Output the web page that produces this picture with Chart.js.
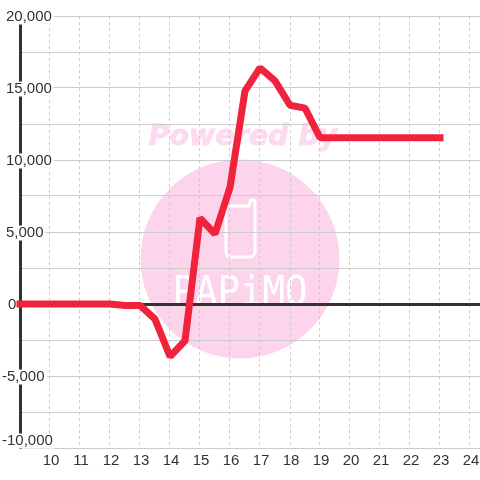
<!DOCTYPE html>
<html>
<head>
<meta charset="utf-8">
<style>
  html, body { margin: 0; padding: 0; background: #fff; }
  canvas { display: block; }
</style>
<script src="https://cdn.jsdelivr.net/npm/chart.js@4/dist/chart.umd.min.js"></script>
</head>
<body>
<canvas id="profitChart" width="480" height="480"></canvas>
<script>
const hours = [9, 10, 11, 12, 12.5, 13, 13.5, 14, 14.5, 15, 15.5, 16, 16.5, 17, 17.5, 18, 18.5, 19, 20, 21, 22, 23];
const profit = [0, 0, 0, 0, -100, -100, -1050, -3650, -2550, 5970, 4860, 8100, 14800, 16400, 15500, 13800, 13600, 11550, 11550, 11550, 11550, 11550];
const yLabelValues = [-10000, -5000, 0, 5000, 10000, 15000, 20000];
const yLabels = ["-10,000", "-5,000", "0", "5,000", "10,000", "15,000", "20,000"];
const xLabels = ["10", "11", "12", "13", "14", "15", "16", "17", "18", "19", "20", "21", "22", "23", "24"];

// the pink logo sits behind the grid
const watermark = {
  id: "watermark",
  beforeDraw(chart) {
    const ctx = chart.ctx;
    ctx.save();
    ctx.fillStyle = "#fcd5ec";
    ctx.beginPath();
    ctx.arc(240, 259, 99.5, 0, Math.PI * 2);
    ctx.fill();

    ctx.fillStyle = "#fddaef";
    ctx.strokeStyle = "#fddaef";
    ctx.lineWidth = 0.8;
    ctx.font = "italic bold 28.5px 'DejaVu Sans'";
    ctx.textBaseline = "alphabetic";
    ctx.textAlign = "left";
    ctx.fillText("Powered by", 148.5, 144.5);
    ctx.strokeText("Powered by", 148.5, 144.5);

    ctx.strokeStyle = "#fff";
    ctx.lineWidth = 3;
    ctx.lineJoin = "round";
    ctx.beginPath();
    ctx.moveTo(226, 206);
    ctx.lineTo(226, 252);
    ctx.arcTo(226, 257, 231, 257, 5);
    ctx.lineTo(250, 257);
    ctx.arcTo(255, 257, 255, 252, 5);
    ctx.lineTo(255, 202);
    ctx.arcTo(255, 200, 253, 200, 2);
    ctx.arcTo(250, 200, 250, 202, 2);
    ctx.lineTo(249, 206);
    ctx.closePath();
    ctx.stroke();

    ctx.fillStyle = "#fff";
    ctx.font = "36px 'DejaVu Sans Mono'";
    ctx.textAlign = "center";
    ctx.save();
    ctx.translate(240, 305);
    ctx.scale(1.04, 1.15);
    ctx.fillText("PAPiMO", 0, 0);
    ctx.restore();
    ctx.restore();
  },
};

// tick labels do not line up in the original, so nudge them after layout
const labelNudge = {
  id: "labelNudge",
  afterLayout(chart) {
    const shifts = { "-10,000": [-4, -7], "-5,000": [-4, 1], "0": [2, 1] };
    chart.scales.y.getLabelItems().forEach((item) => {
      const s = shifts[item.label] || [0, 1];
      item.options.translation[0] += s[0];
      item.options.translation[1] += s[1];
    });
    chart.scales.x.getLabelItems().forEach((item) => {
      item.options.translation[0] += 1;
    });
  },
};

new Chart(document.getElementById("profitChart"), {
  type: "line",
  data: {
    datasets: [
      {
        data: hours.map((h, i) => ({ x: h, y: profit[i] })),
        borderColor: "#f0223c",
        borderWidth: 7,
        borderCapStyle: "square",
        borderJoinStyle: "bevel",
        pointRadius: 0,
        tension: 0,
        clip: false,
      },
    ],
  },
  options: {
    responsive: false,
    animation: false,
    layout: { padding: { top: 16 } },
    plugins: {
      legend: { display: false },
      tooltip: { enabled: false },
    },
    scales: {
      x: {
        type: "linear",
        min: 9,
        max: 9 + 460 / 30,
        afterFit(scale) {
          scale.height = 32;
          scale.paddingLeft = 0;
          scale.paddingRight = 0;
        },
        grid: { color: "#ccc", lineWidth: 1, drawTicks: false },
        border: { display: false, dash: [3, 3] },
        ticks: {
          stepSize: 1,
          autoSkip: false,
          maxRotation: 0,
          includeBounds: false,
          padding: 4,
          color: "#333",
          font: { family: "'Liberation Sans'", size: 15 },
          callback: (v) => (xLabels.includes(String(v)) ? String(v) : ""),
        },
      },
      y: {
        min: -10000,
        max: 20000,
        afterFit(scale) {
          scale.width = 20;
        },
        grid: {
          color: (c) => (c.tick.value === 0 ? "#333" : "#ccc"),
          lineWidth: (c) => (c.tick.value === 0 ? 3 : 1),
          drawTicks: false,
        },
        border: { display: true, color: "#333", width: 3 },
        ticks: {
          stepSize: 2500,
          autoSkip: false,
          mirror: true,
          padding: -14,
          color: "#333",
          font: { family: "'Liberation Sans'", size: 15, lineHeight: 1 },
          showLabelBackdrop: (c) => yLabelValues.includes(c.tick.value),
          backdropColor: "#fff",
          backdropPadding: { x: 2, y: 0 },
          callback: (v) => {
            const i = yLabelValues.indexOf(v);
            return i < 0 ? "" : yLabels[i];
          },
        },
      },
    },
  },
  plugins: [watermark, labelNudge],
});
</script>
</body>
</html>
